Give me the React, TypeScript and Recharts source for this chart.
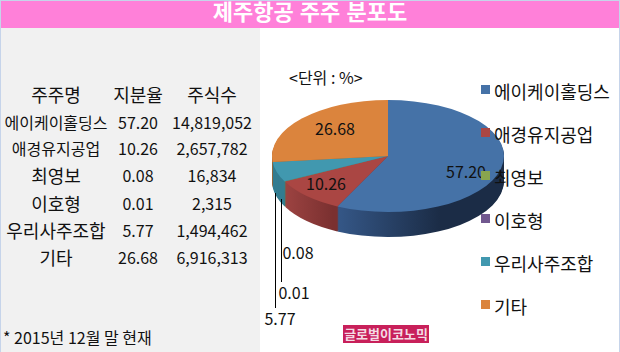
import { PieChart, Pie, Cell, Legend } from "recharts";

const categories = ["에이케이홀딩스", "애경유지공업", "최영보", "이호형", "우리사주조합", "기타"];
const stakes = [57.2, 10.26, 0.08, 0.01, 5.77, 26.68];
const shareCounts = ["14,819,052", "2,657,782", "16,834", "2,315", "1,494,462", "6,916,313"];

const colors = ["#4572A7", "#AA4643", "#89A54E", "#71588F", "#4198AF", "#DB843D"];
const wallFills = ["url(#wallBlue)", "url(#wallRed)", "#6b7d3a", "#54406c", "#327c90", "#a86028"];

const font = '"Noto Sans CJK KR", "Noto Sans", sans-serif';
const titleFont = '"Liberation Sans", "Noto Sans CJK KR", sans-serif';
const rowTops = [94, 122, 148, 175, 203, 230, 257];
const columns = [56, 138, 212];
// the two long names were shrunk to fit their cells
const nameSizes = [16, 16, 18, 18, 18, 18];

// the pie is squashed with a css transform, so everything in it is in unsquashed units
const SQUASH = 0.483;
const CX = 388;
const CY = 156;
const RX = 116;
const DEPTH = 25;
const wallLayers = Array.from({ length: DEPTH }, (_, i) => DEPTH - i);

// where the value labels sit on the page
const labelSpots = [
  { x: 466, y: 171 },
  { x: 326, y: 183 },
  { x: 298, y: 252 },
  { x: 294, y: 292 },
  { x: 280, y: 318 },
  { x: 335, y: 128 },
];

const pieData = categories.map((name, i) => ({ name, value: stakes[i] }));

function Centered({ x, y, size = 16, children }: { x: number; y: number; size?: number; children: React.ReactNode }) {
  return (
    <div
      style={{
        position: "absolute",
        left: x - 100,
        top: y - 15,
        width: 200,
        height: 30,
        lineHeight: "30px",
        textAlign: "center",
        fontSize: size,
        color: "#111",
      }}
    >
      {children}
    </div>
  );
}

function renderLabel(props: any) {
  const { index, value } = props;
  const spot = labelSpots[index];
  return (
    <g key={index}>
      {index === 3 && <line x1={281.5} y1={199} x2={281.5} y2={282} stroke="#000" strokeWidth={1} />}
      {index === 4 && <line x1={275.5} y1={193} x2={275.5} y2={308} stroke="#000" strokeWidth={1} />}
      <text x={spot.x} y={spot.y} textAnchor="middle" dominantBaseline="central" fontSize={16} fontFamily={font} fill="#111">
        {value.toFixed(2)}
      </text>
    </g>
  );
}

function LegendList() {
  return (
    <div style={{ fontFamily: font }}>
      {categories.map((name, i) => (
        <div key={name} style={{ display: "flex", alignItems: "center", height: 43 }}>
          <span style={{ width: 9, height: 9, background: colors[i], marginRight: 4, marginTop: -3 }} />
          <span style={{ fontSize: 18, color: "#111", whiteSpace: "nowrap" }}>{name}</span>
        </div>
      ))}
    </div>
  );
}

export default function App() {
  return (
    <div
      style={{
        position: "absolute",
        left: 0,
        top: 0,
        width: 620,
        height: 352,
        overflow: "hidden",
        background: "#fff",
        fontFamily: font,
      }}
    >
      <div style={{ position: "absolute", left: 1, top: 28, width: 259, height: 324, background: "#f1f1f1" }} />
      <div
        style={{
          position: "absolute",
          left: 1,
          top: 1,
          width: 618,
          height: 27,
          lineHeight: "23px",
          background: "#ff80d9",
          color: "#fff",
          fontFamily: titleFont,
          fontWeight: 700,
          fontSize: 22,
          textAlign: "center",
        }}
      >
        제주항공 주주 분포도
      </div>
      <div style={{ position: "absolute", left: 0, top: 0, width: 1, height: 352, background: "#c6d4ea" }} />
      <div style={{ position: "absolute", left: 619, top: 0, width: 1, height: 352, background: "#c6d4ea" }} />
      <div style={{ position: "absolute", left: 0, top: 0, width: 620, height: 1, background: "#c6d4ea" }} />

      <Centered x={columns[0]} y={rowTops[0]} size={18}>주주명</Centered>
      <Centered x={columns[1]} y={rowTops[0]} size={18}>지분율</Centered>
      <Centered x={columns[2]} y={rowTops[0]} size={18}>주식수</Centered>
      {categories.map((name, i) => (
        <div key={name}>
          <Centered x={columns[0]} y={rowTops[i + 1]} size={nameSizes[i]}>{name}</Centered>
          <Centered x={columns[1]} y={rowTops[i + 1]}>{stakes[i].toFixed(2)}</Centered>
          <Centered x={columns[2]} y={rowTops[i + 1]}>{shareCounts[i]}</Centered>
        </div>
      ))}
      <div style={{ position: "absolute", left: 3, top: 326, fontSize: 16, lineHeight: "22px", color: "#111" }}>
        * 2015년 12월 말 현재
      </div>

      <div style={{ position: "absolute", left: 0, top: 0, transform: `scaleY(${SQUASH})`, transformOrigin: "0 0" }}>
        <PieChart width={620} height={Math.round(352 / SQUASH)} margin={{ top: 0, right: 0, bottom: 0, left: 0 }}>
          <defs>
            <linearGradient id="wallBlue" gradientUnits="userSpaceOnUse" x1={333} y1={0} x2={440} y2={0}>
              <stop offset="0%" stopColor="#36598a" />
              <stop offset="100%" stopColor="#1b2c46" />
            </linearGradient>
            <linearGradient id="wallRed" gradientUnits="userSpaceOnUse" x1={280} y1={0} x2={333} y2={0}>
              <stop offset="0%" stopColor="#a04543" />
              <stop offset="100%" stopColor="#7a3030" />
            </linearGradient>
          </defs>
          {wallLayers.map((d) => (
            <Pie
              key={d}
              data={pieData}
              dataKey="value"
              nameKey="name"
              cx={CX}
              cy={(CY + d) / SQUASH}
              outerRadius={RX}
              startAngle={90}
              endAngle={-270}
              stroke="none"
              isAnimationActive={false}
            >
              {categories.map((name, i) => (
                <Cell key={name} fill={wallFills[i]} />
              ))}
            </Pie>
          ))}
          <Pie
            data={pieData}
            dataKey="value"
            nameKey="name"
            cx={CX}
            cy={CY / SQUASH}
            outerRadius={RX}
            startAngle={90}
            endAngle={-270}
            stroke="none"
            isAnimationActive={false}
          >
            {categories.map((name, i) => (
              <Cell key={name} fill={colors[i]} />
            ))}
          </Pie>
        </PieChart>
      </div>

      <div style={{ position: "absolute", left: 0, top: 0 }}>
        <PieChart width={620} height={352} margin={{ top: 0, right: 0, bottom: 0, left: 0 }}>
          <Pie
            data={pieData}
            dataKey="value"
            nameKey="name"
            cx={CX}
            cy={CY}
            outerRadius={1}
            startAngle={90}
            endAngle={-270}
            fill="none"
            stroke="none"
            label={renderLabel}
            labelLine={false}
            isAnimationActive={false}
          />
          <Legend
            content={<LegendList />}
            layout="vertical"
            wrapperStyle={{ left: 481, top: 69, width: 138, bottom: "auto" }}
          />
        </PieChart>
      </div>

      <div style={{ position: "absolute", left: 289, top: 66, fontSize: 16, lineHeight: "22px", color: "#111" }}>
        {"<단위 : %>"}
      </div>
      <div
        style={{
          position: "absolute",
          left: 343,
          top: 325,
          width: 86,
          height: 18,
          lineHeight: "17px",
          background: "#c8205a",
          color: "#f4dbe4",
          fontWeight: 700,
          fontSize: 13,
          textAlign: "center",
          whiteSpace: "nowrap",
        }}
      >
        글로벌이코노믹
      </div>
    </div>
  );
}
